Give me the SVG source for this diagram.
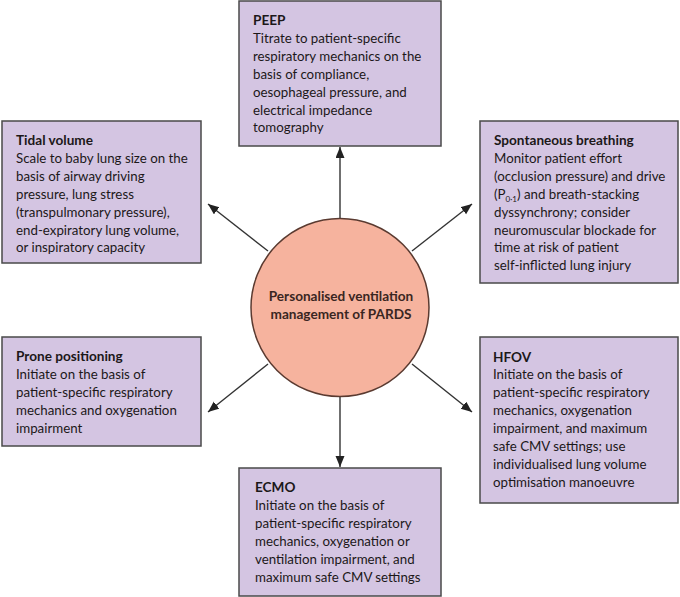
<svg xmlns="http://www.w3.org/2000/svg" width="680" height="597" viewBox="0 0 680 597">
<defs>
<style>
.box{fill:#d4c5e2;stroke:#4a4a4a;stroke-width:1.5}
.t{font-family:Lato,"Open Sans",sans-serif;font-size:13.3px;fill:#1c1819}
.h{font-weight:bold;font-size:13.6px}
.c{fill:#f6b39e;stroke:#5a3a30;stroke-width:1.5}
.ct{font-family:Lato,"Open Sans",sans-serif;font-size:13.6px;font-weight:bold;fill:#3a2622}
.arr{stroke:#333;stroke-width:1.4;fill:none;marker-end:url(#ah)}
</style>
<marker id="ah" markerUnits="userSpaceOnUse" markerWidth="12" markerHeight="10" refX="11" refY="4.5" orient="auto">
<path d="M0,0 L11,4.5 L0,9 z" fill="#222"/>
</marker>
</defs>
<rect width="680" height="597" fill="#fff"/>
<g id="connectors">
<line class="arr" x1="340" y1="218" x2="340" y2="147"/>
<line class="arr" x1="268" y1="251" x2="208" y2="204"/>
<line class="arr" x1="412" y1="251" x2="472" y2="204"/>
<line class="arr" x1="268" y1="364" x2="208" y2="412"/>
<line class="arr" x1="412" y1="364" x2="472" y2="412"/>
<line class="arr" x1="340" y1="397" x2="340" y2="467"/>
</g>
<g id="peep">
<rect class="box" x="239" y="1" width="202" height="145"/>
<text class="t"><tspan class="h" x="253" y="25">PEEP</tspan><tspan x="253" y="42.9">Titrate to patient-specific</tspan><tspan x="253" y="60.8">respiratory mechanics on the</tspan><tspan x="253" y="78.7">basis of compliance,</tspan><tspan x="253" y="96.6">oesophageal pressure, and</tspan><tspan x="253" y="114.5">electrical impedance</tspan><tspan x="253" y="132.4">tomography</tspan></text>
</g>
<g id="tidal">
<rect class="box" x="2" y="121" width="199" height="142"/>
<text class="t"><tspan class="h" x="16" y="145">Tidal volume</tspan><tspan x="16" y="162.9">Scale to baby lung size on the</tspan><tspan x="16" y="180.8">basis of airway driving</tspan><tspan x="16" y="198.7">pressure, lung stress</tspan><tspan x="16" y="216.6">(transpulmonary pressure),</tspan><tspan x="16" y="234.5">end-expiratory lung volume,</tspan><tspan x="16" y="252.4">or inspiratory capacity</tspan></text>
</g>
<g id="spont">
<rect class="box" x="480" y="121" width="198" height="162"/>
<text class="t"><tspan class="h" x="494" y="145">Spontaneous breathing</tspan><tspan x="494" y="162.9">Monitor patient effort</tspan><tspan x="494" y="180.8">(occlusion pressure) and drive</tspan><tspan x="494" y="198.7">(P<tspan font-size="8" dy="3">0·1</tspan><tspan dy="-3">) and breath-stacking</tspan></tspan><tspan x="494" y="216.6">dyssynchrony; consider</tspan><tspan x="494" y="234.5">neuromuscular blockade for</tspan><tspan x="494" y="252.4">time at risk of patient</tspan><tspan x="494" y="270.3">self-inflicted lung injury</tspan></text>
</g>
<g id="prone">
<rect class="box" x="2" y="337" width="199" height="109"/>
<text class="t"><tspan class="h" x="16" y="361">Prone positioning</tspan><tspan x="16" y="378.9">Initiate on the basis of</tspan><tspan x="16" y="396.8">patient-specific respiratory</tspan><tspan x="16" y="414.7">mechanics and oxygenation</tspan><tspan x="16" y="432.6">impairment</tspan></text>
</g>
<g id="hfov">
<rect class="box" x="480" y="337" width="198" height="166"/>
<text class="t"><tspan class="h" x="493" y="361.5">HFOV</tspan><tspan x="493" y="379.4">Initiate on the basis of</tspan><tspan x="493" y="397.3">patient-specific respiratory</tspan><tspan x="493" y="415.2">mechanics, oxygenation</tspan><tspan x="493" y="433.1">impairment, and maximum</tspan><tspan x="493" y="451">safe CMV settings; use</tspan><tspan x="493" y="468.9">individualised lung volume</tspan><tspan x="493" y="486.8">optimisation manoeuvre</tspan></text>
</g>
<g id="ecmo">
<rect class="box" x="239" y="468" width="202" height="128"/>
<text class="t"><tspan class="h" x="255" y="492">ECMO</tspan><tspan x="255" y="509.9">Initiate on the basis of</tspan><tspan x="255" y="527.8">patient-specific respiratory</tspan><tspan x="255" y="545.7">mechanics, oxygenation or</tspan><tspan x="255" y="563.6">ventilation impairment, and</tspan><tspan x="255" y="581.5">maximum safe CMV settings</tspan></text>
</g>
<g id="center">
<circle class="c" cx="340" cy="307.5" r="89"/>
<text class="ct" text-anchor="middle"><tspan x="341" y="301">Personalised ventilation</tspan><tspan x="341" y="319">management of PARDS</tspan></text>
</g>
</svg>
